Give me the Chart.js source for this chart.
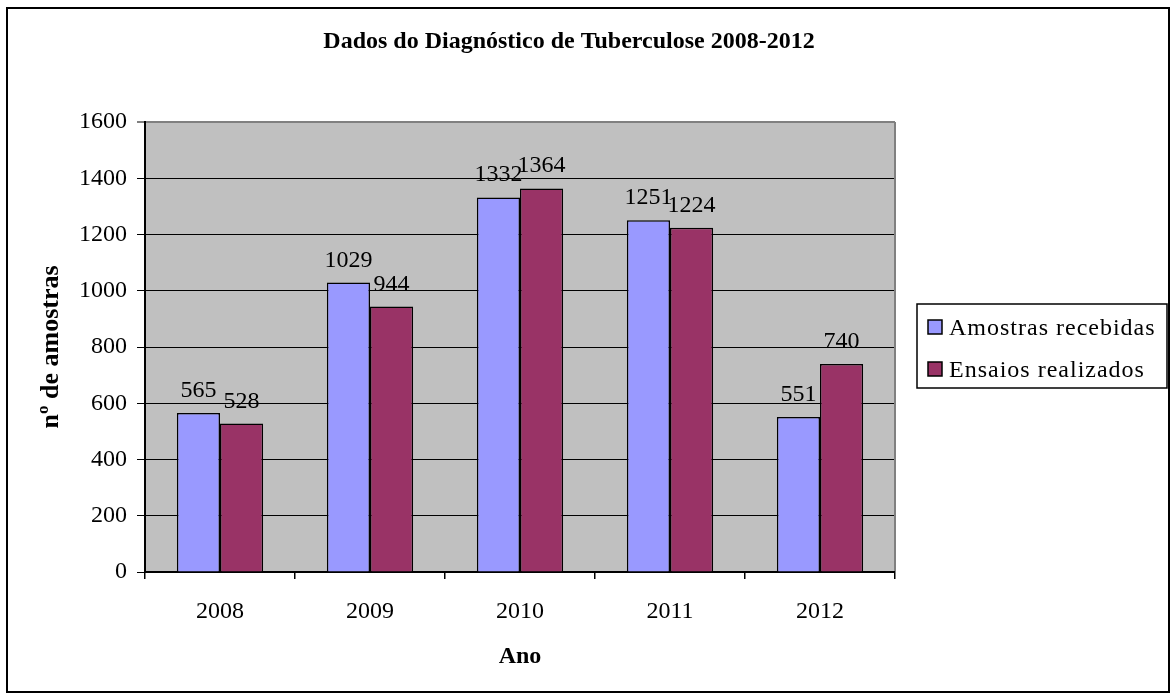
<!DOCTYPE html>
<html>
<head>
<meta charset="utf-8">
<script src="https://cdn.jsdelivr.net/npm/chart.js@4/dist/chart.umd.min.js"></script>
<style>
  html, body { margin: 0; padding: 0; background: #ffffff; }
  #wrap { width: 1174px; height: 700px; }
</style>
</head>
<body>
<div id="wrap"><canvas id="c" width="1174" height="700"></canvas></div>
<script>
const categories = ['2008', '2009', '2010', '2011', '2012'];
const amostrasRecebidas = [565, 1029, 1332, 1251, 551];
const ensaiosRealizados = [528, 944, 1364, 1224, 740];
const seriesNames = ['Amostras recebidas', 'Ensaios realizados'];
const yTicks = [0, 200, 400, 600, 800, 1000, 1200, 1400, 1600];
const chartTitle = 'Dados do Diagnóstico de Tuberculose 2008-2012';
const yTitle = 'nº de amostras';
const xTitle = 'Ano';

const SERIF = '"Liberation Serif", "Times New Roman", serif';
const colors = ['#9999FF', '#993366'];

const decor = {
  id: 'decor',
  beforeDraw(chart) {
    const ctx = chart.ctx;
    const a = chart.chartArea;
    ctx.save();
    ctx.fillStyle = '#ffffff';
    ctx.fillRect(0, 0, chart.width, chart.height);
    ctx.fillStyle = '#C0C0C0';
    ctx.fillRect(a.left, a.top, a.right - a.left, a.bottom - a.top);
    ctx.restore();
  },
  afterDatasetsDraw(chart) {
    const ctx = chart.ctx;
    ctx.save();
    ctx.font = '24px ' + SERIF;
    ctx.fillStyle = '#000000';
    ctx.textAlign = 'center';
    ctx.textBaseline = 'alphabetic';
    chart.data.datasets.forEach((ds, di) => {
      const meta = chart.getDatasetMeta(di);
      meta.data.forEach((bar, i) => {
        ctx.fillText(String(ds.data[i]), bar.x, bar.y - 16);
      });
    });
    ctx.restore();
  },
  afterDraw(chart) {
    const ctx = chart.ctx;
    const a = chart.chartArea;
    ctx.save();
    // right border of plot area
    ctx.strokeStyle = '#808080';
    ctx.lineWidth = 2;
    ctx.beginPath();
    ctx.moveTo(a.right, a.top);
    ctx.lineTo(a.right, a.bottom - 1);
    ctx.stroke();
    // outer frame
    ctx.strokeStyle = '#000000';
    ctx.lineWidth = 2;
    ctx.strokeRect(7, 8, 1162, 684);
    // title
    ctx.fillStyle = '#000000';
    ctx.font = 'bold 24px ' + SERIF;
    ctx.textAlign = 'center';
    ctx.textBaseline = 'middle';
    ctx.fillText(chartTitle, 569, 42);
    // legend
    const lx = 917, ly = 304, lw = 250, lh = 84;
    ctx.fillStyle = '#ffffff';
    ctx.fillRect(lx, ly, lw, lh);
    ctx.lineWidth = 1.5;
    ctx.strokeStyle = '#000000';
    ctx.strokeRect(lx, ly, lw, lh);
    ctx.font = '24px ' + SERIF;
    ctx.textAlign = 'left';
    ctx.textBaseline = 'middle';
    try { ctx.letterSpacing = '1px'; } catch (e) {}
    chart.data.datasets.forEach((ds, i) => {
      const cy = 327 + i * 42;
      ctx.fillStyle = ds.backgroundColor;
      ctx.fillRect(928, cy - 7, 14, 14);
      ctx.lineWidth = 1.5;
      ctx.strokeStyle = '#000000';
      ctx.strokeRect(928, cy - 7, 14, 14);
      ctx.fillStyle = '#000000';
      ctx.fillText(ds.label, 949, cy + 2);
    });
    ctx.restore();
  }
};

new Chart(document.getElementById('c'), {
  type: 'bar',
  data: {
    labels: categories,
    datasets: [
      { label: seriesNames[0], data: amostrasRecebidas, backgroundColor: colors[0], borderColor: '#000000', borderWidth: 1.5, borderSkipped: 'start', categoryPercentage: 0.575, barPercentage: 1.0 },
      { label: seriesNames[1], data: ensaiosRealizados, backgroundColor: colors[1], borderColor: '#000000', borderWidth: 1.5, borderSkipped: 'start', categoryPercentage: 0.575, barPercentage: 1.0 }
    ]
  },
  options: {
    responsive: false,
    animation: false,
    devicePixelRatio: 1,
    layout: { padding: { left: 0, top: 122, right: 279, bottom: 0 } },
    plugins: {
      legend: { display: false },
      title: { display: false },
      tooltip: { enabled: false }
    },
    scales: {
      x: {
        offset: true,
        grid: { offset: true, drawOnChartArea: false, drawTicks: true, tickLength: 7, color: '#000000', lineWidth: 1.5 },
        border: { display: true, color: '#000000', width: 2 },
        ticks: { color: '#000000', font: { family: SERIF, size: 24 }, padding: 18, maxRotation: 0 },
        title: { display: true, text: xTitle, color: '#000000', font: { family: SERIF, size: 24, weight: 'bold' }, padding: { top: 0, bottom: 29 } },
        afterFit(scale) { scale.height = 128; }
      },
      y: {
        min: 0,
        max: 1600,
        afterBuildTicks(scale) { scale.ticks = yTicks.map(v => ({ value: v })); },
        grid: {
          drawTicks: true,
          tickLength: 8,
          lineWidth: (c) => (c.tick && c.tick.value === 1600 ? 2 : 1),
          color: (c) => (c.tick && c.tick.value === 1600 ? '#808080' : '#000000')
        },
        border: { display: true, color: '#000000', width: 2 },
        ticks: { color: '#000000', font: { family: SERIF, size: 24 }, padding: 10, callback: (v) => String(v) },
        title: { display: true, text: yTitle, color: '#000000', font: { family: SERIF, size: 26, weight: 'bold' }, padding: { top: 36, bottom: 0 } },
        afterFit(scale) { scale.width = 145; }
      }
    }
  },
  plugins: [decor]
});
</script>
</body>
</html>
